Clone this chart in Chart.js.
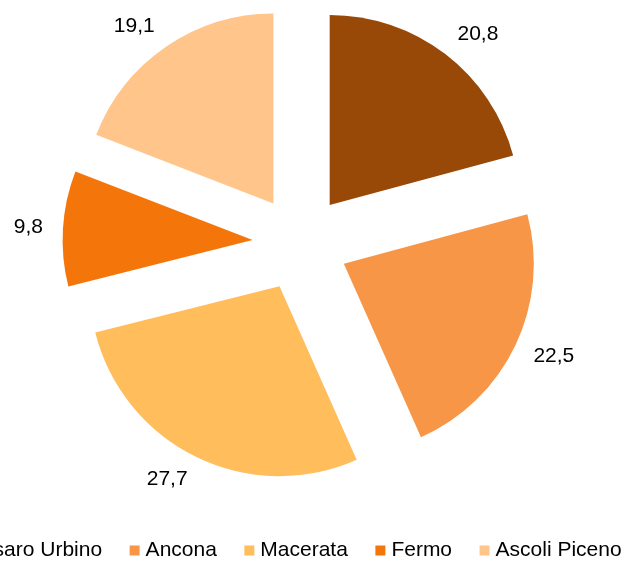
<!DOCTYPE html>
<html>
<head>
<meta charset="utf-8">
<title>Province</title>
<script src="https://cdn.jsdelivr.net/npm/chart.js@4/dist/chart.umd.min.js"></script>
<style>
  html, body { margin: 0; width: 624px; height: 561px; overflow: hidden; background: #fff; }
  /* canvas is wider than the window: the legend runs off the left edge like in the original */
  #wrap { position: absolute; left: -101px; top: -22px; width: 780px; height: 593px; }
</style>
</head>
<body>
<div id="wrap"><canvas id="chart" width="780" height="593"></canvas></div>
<script>
const provinces = ['Pesaro Urbino', 'Ancona', 'Macerata', 'Fermo', 'Ascoli Piceno'];
const shares = [20.8, 22.5, 27.7, 9.8, 19.1];
const sliceColors = ['#984807', '#F79646', '#FFBD5C', '#F4760A', '#FFC58B'];

const EXPLODE = 48;     // how far each slice is pulled out
const LABEL_GAP = 20;   // space between slice edge and its value
const PIE_SHIFT = 11.5; // pie is a little right of the legend centre

const fmt = v => v.toFixed(1).replace('.', ',');

const explodePlugin = {
  id: 'explode',
  afterLayout(chart) {
    chart.chartArea.left += PIE_SHIFT;
    chart.chartArea.right += PIE_SHIFT;
  },
  beforeDatasetDraw(chart, args) {
    const ctx = chart.ctx;
    args.meta.data.forEach(arc => {
      const mid = (arc.startAngle + arc.endAngle) / 2;
      ctx.save();
      ctx.translate(Math.cos(mid) * EXPLODE, Math.sin(mid) * EXPLODE);
      arc.draw(ctx);
      ctx.restore();
    });
    return false;
  },
  afterDatasetsDraw(chart) {
    const ctx = chart.ctx;
    const meta = chart.getDatasetMeta(0);
    ctx.save();
    ctx.font = '21px "Liberation Sans", Arial, sans-serif';
    ctx.fillStyle = '#000';
    ctx.textBaseline = 'middle';
    meta.data.forEach((arc, i) => {
      const mid = (arc.startAngle + arc.endAngle) / 2;
      const dx = Math.cos(mid), dy = Math.sin(mid);
      const r = EXPLODE + arc.outerRadius + LABEL_GAP;
      ctx.textAlign = dx >= 0 ? 'left' : 'right';
      ctx.fillText(fmt(shares[i]), arc.x + dx * r, arc.y + dy * r + dy * 5);
    });
    ctx.restore();
  }
};

Chart.defaults.font.family = '"Liberation Sans", Arial, sans-serif';
Chart.defaults.color = '#000';

new Chart(document.getElementById('chart'), {
  type: 'pie',
  data: {
    labels: provinces,
    datasets: [{
      data: shares,
      backgroundColor: sliceColors,
      borderWidth: 0
    }]
  },
  options: {
    responsive: false,
    animation: false,
    radius: 190,
    layout: { padding: 0 },
    plugins: {
      legend: {
        position: 'bottom',
        labels: {
          font: { size: 21 },
          usePointStyle: true,
          pointStyle: 'rect',
          boxWidth: 1,
          boxHeight: 10,
          padding: 32
        }
      },
      tooltip: { enabled: false }
    }
  },
  plugins: [explodePlugin]
});
</script>
</body>
</html>
